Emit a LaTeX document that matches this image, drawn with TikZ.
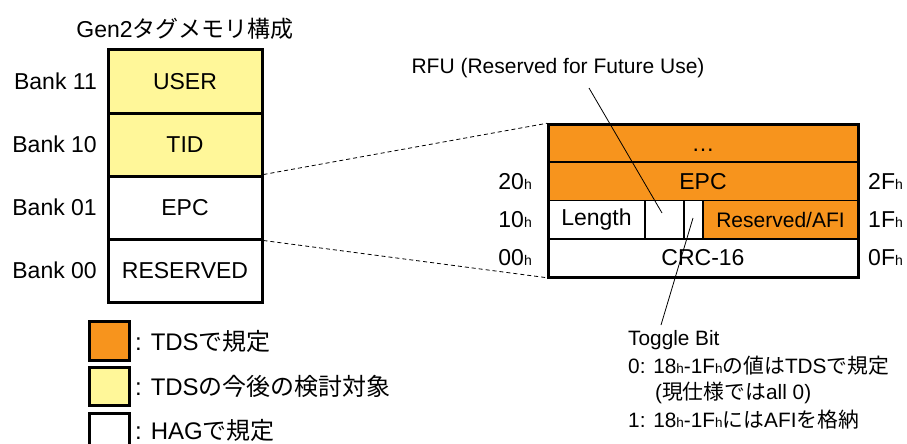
\documentclass[tikz,border=0pt]{standalone}
\usepackage{fontspec}
\setmainfont{Liberation Sans}
\newfontfamily\jpfont{Noto Sans CJK JP}
\newcommand\J[1]{{\jpfont #1}}
\newcommand\hx{{\fontsize{14}{14}\selectfont h}}
\newcommand\hs{{\fontsize{13.5}{13.5}\selectfont h}}
\definecolor{tdsorange}{RGB}{247,148,29}
\definecolor{tdsyellow}{RGB}{255,247,153}
\begin{document}
\begin{tikzpicture}[x=1pt,y=-1pt,
  txt/.style={inner sep=0pt, font=\fontsize{23}{23}\selectfont},
  small/.style={inner sep=0pt, font=\fontsize{21}{21}\selectfont},
  tnote/.style={inner sep=0pt, anchor=west, font=\fontsize{20.8}{20.8}\selectfont},
  bank/.style={draw, line width=3pt, minimum width=154pt, minimum height=63pt, inner sep=0pt, font=\fontsize{23}{23}\selectfont},
  cell/.style={draw, line width=1.5pt, minimum height=38.25pt, inner sep=0pt, font=\fontsize{23}{23}\selectfont},
  legbox/.style={draw, line width=3pt, minimum width=40pt, minimum height=38.5pt, inner sep=0pt},
  guide/.style={line width=0.8pt, dash pattern=on 4pt off 3pt},
  pointer/.style={line width=0.8pt}]
\useasboundingbox (0,0) rectangle (907,444);
\clip (0,0) rectangle (907,444);

% title
\node[txt] (title) at (185,29) {Gen2\J{タグメモリ構成}};

% left memory banks
\node[bank, fill=tdsyellow] (user) at (185,81.5) {USER};
\node[bank, fill=tdsyellow] (tid) at (185,144.5) {TID};
\node[bank, fill=white] (epc) at (185,207.5) {EPC};
\node[bank, fill=white] (res) at (185,270.5) {RESERVED};

\node[txt, anchor=east] (b11) at (97,81.5) {Bank 11};
\node[txt, anchor=east] (b10) at (97,144.5) {Bank 10};
\node[txt, anchor=east] (b01) at (97,207.5) {Bank 01};
\node[txt, anchor=east] (b00) at (97,270.5) {Bank 00};

% right EPC detail
\node[cell, fill=tdsorange, minimum width=310pt] (dots) at (703,143.1) {\vphantom{E}\dots};
\node[cell, fill=tdsorange, minimum width=310pt] (epcr) at (703,181.4) {EPC};
\node[cell, fill=white, minimum width=97pt] (len) at (596.5,219.6) {Length};
\node[cell, fill=white, minimum width=39pt] (rfucell) at (664.5,219.6) {};
\node[cell, fill=white, minimum width=19pt] (togcell) at (693.5,219.6) {};
\node[cell, fill=tdsorange, minimum width=155pt, font=\fontsize{21}{21}\selectfont] (afi) at (780.5,219.6) {Reserved/AFI};
\node[cell, fill=white, minimum width=310pt] (crc) at (703,257.9) {CRC-16};
\draw[line width=3pt] (548,124) rectangle (858,277);

\node[txt, anchor=east] (a20) at (532,181.4) {20\hx};
\node[txt, anchor=east] (a10) at (532,219.6) {10\hx};
\node[txt, anchor=east] (a00) at (532,257.9) {00\hx};
\node[txt, anchor=west] (a2f) at (868,181.4) {2F\hx};
\node[txt, anchor=west] (a1f) at (868,219.6) {1F\hx};
\node[txt, anchor=west] (a0f) at (868,257.9) {0F\hx};

% dashed guides
\draw[guide] (epc.north east) -- (dots.north west);
\draw[guide] (epc.south east) -- (crc.south west);

% RFU annotation
\node[small] (rfu) at (558,68) {RFU (Reserved for Future Use)};
\coordinate (rfutop) at (589,88);
\coordinate (rfupt) at (662,213);
\draw[pointer] (rfutop) -- (rfupt);

% Toggle bit annotation
\node[tnote] (tog) at (628,340) {Toggle Bit};
\node[tnote] (tog0) at (628,366) {0: 18\hs-1F\hs\J{の値は}TDS\J{で規定}};
\node[tnote] (tog0b) at (655,393) {(\J{現仕様では}all 0)};
\node[tnote] (tog1) at (628,420) {1: 18\hs-1F\hs\J{には}AFI\J{を格納}};
\coordinate (togpt) at (693,218);
\coordinate (togend) at (661,325);
\draw[pointer] (togpt) -- (togend);

% legend
\node[legbox, fill=tdsorange] (lo) at (109,341) {};
\node[legbox, fill=tdsyellow] (ly) at (109,386.5) {};
\node[legbox, fill=white] (lw) at (109,432.5) {};
\node[txt, anchor=west, font=\fontsize{24}{24}\selectfont] (lot) at (135,341) {: TDS\J{で規定}};
\node[txt, anchor=west, font=\fontsize{24}{24}\selectfont] (lyt) at (135,386.5) {: TDS\J{の今後の検討対象}};
\node[txt, anchor=west, font=\fontsize{24}{24}\selectfont] (lwt) at (135,430.5) {: HAG\J{で規定}};
\end{tikzpicture}
\end{document}
